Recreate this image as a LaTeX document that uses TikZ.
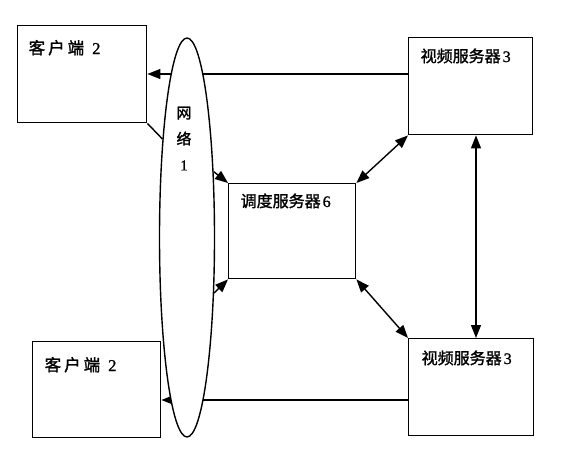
\documentclass[tikz,border=0pt]{standalone}
\usepackage{fontspec}
\setmainfont[FakeBold=1.2]{Liberation Serif}
\newfontfamily\cjk[FakeBold=1.5]{Noto Sans CJK SC}
\usetikzlibrary{arrows.meta,shapes.geometric,calc}
\begin{document}
\begin{tikzpicture}[x=1pt,y=-1pt, line width=1.4pt,
  box/.style={draw, rectangle, inner sep=0pt, anchor=north west},
  arr/.style={-{Triangle[length=13pt,width=10pt]}},
  darr/.style={{Triangle[length=13pt,width=10pt]}-{Triangle[length=13pt,width=10pt]}},
  lbl/.style={anchor=base west, inner sep=0pt, font=\fontsize{16}{18}\selectfont},
  clbl/.style={anchor=base west, inner sep=0pt, font=\fontsize{16.5}{18}\selectfont}]
\useasboundingbox (0,0) rectangle (563,450);
% boxes
\node[box, minimum width=129pt, minimum height=97pt] (c1) at (17,25) {};
\node[box, minimum width=128pt, minimum height=96pt] (c2) at (32,341) {};
\node[box, minimum width=124pt, minimum height=97pt] (v1) at (408,37) {};
\node[box, minimum width=125pt, minimum height=97pt] (v2) at (408,338) {};
\node[box, minimum width=127pt, minimum height=95pt] (sch) at (228,183) {};
% labels
\node[clbl] (c1t) at (28,54) {{\cjk 客\hspace{3pt}户\hspace{3pt}端}\hspace{8pt}2};
\node[clbl] (c2t) at (44,371) {{\cjk 客\hspace{3pt}户\hspace{3pt}端}\hspace{8pt}2};
\node[lbl] (v1t) at (420,62) {{\cjk 视频服务器}\hspace{2pt}3};
\node[lbl] (v2t) at (421,364) {{\cjk 视频服务器}\hspace{2pt}3};
\node[lbl] (scht) at (240,207) {{\cjk 调度服务器}\hspace{2pt}6};
% helper coordinates
\coordinate (ya) at (0,74);
\coordinate (yb) at (0,400);
\coordinate (vx) at (476,0);
% lines passing behind the network
\draw[arr] (v1.west |- ya) -- (c1.east |- ya);
\draw[arr] (v2.west |- yb) -- (c2.east |- yb);
% network
\node[ellipse, draw, fill=white, minimum width=55pt, minimum height=399pt, inner sep=0pt] (net) at (187,237.5) {};
\node[anchor=north, inner sep=0pt, align=center, font=\fontsize{15}{26}\selectfont] (nett) at (184,106) {{\cjk 网}\\{\cjk 络}\\1};
% connectors
\draw (c1.south east) -- (net.104);
\draw[arr] (net.68) -- (sch.north west);
\draw[arr] (net.-64) -- (sch.south west);
\draw[darr] (v1.south west) -- (sch.north east);
\draw[darr] (v2.north west) -- (sch.south east);
\draw[darr] (v1.south -| vx) -- (v2.north -| vx);
\end{tikzpicture}
\end{document}
